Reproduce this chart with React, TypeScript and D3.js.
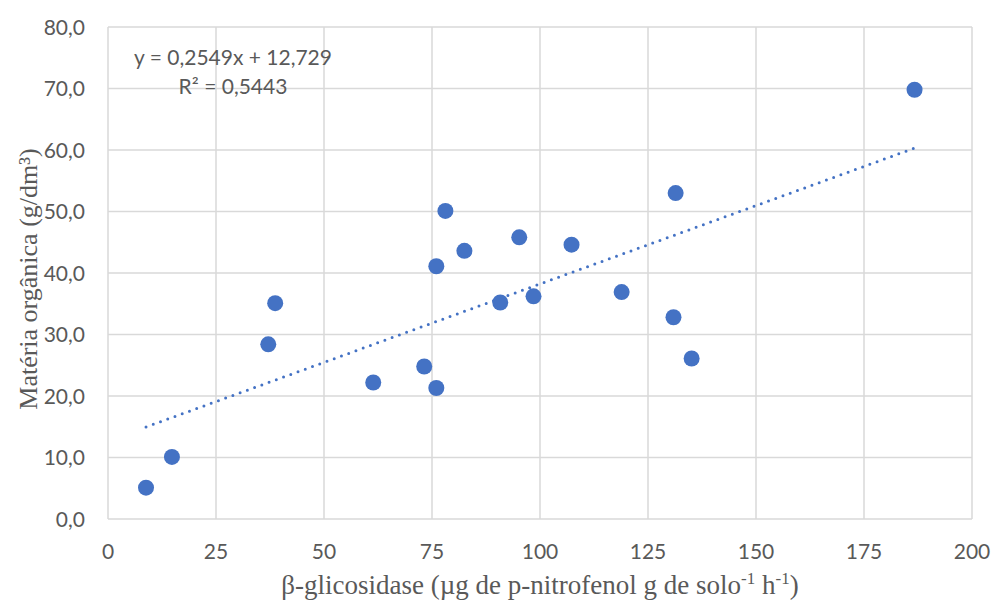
import React, { useEffect, useRef } from "react";
import * as d3 from "d3";

// β-glicosidase values (x) and matéria orgânica (y)
const glicosidase = [8.8, 14.8, 37.1, 38.7, 61.4, 73.2, 76.0, 76.0, 78.1, 82.5, 90.8, 95.2, 98.5, 107.3, 118.9, 130.9, 131.4, 135.1, 186.7];
const materiaOrganica = [5.1, 10.1, 28.4, 35.1, 22.2, 24.8, 21.3, 41.1, 50.1, 43.6, 35.2, 45.8, 36.2, 44.6, 36.9, 32.8, 53.0, 26.1, 69.8];
const xTicks = [0, 25, 50, 75, 100, 125, 150, 175, 200];
const yTicks = [0, 10, 20, 30, 40, 50, 60, 70, 80];
const slope = 0.2549;
const intercept = 12.729;
const eqLabel = "y = 0,2549x + 12,729";
const r2Label = "R² = 0,5443";

export default function App() {
  const ref = useRef<SVGSVGElement>(null);

  useEffect(() => {
    const width = 992;
    const height = 603;
    const margin = { top: 27, right: 20, bottom: 84, left: 108 };
    const innerWidth = width - margin.left - margin.right;
    const innerHeight = height - margin.top - margin.bottom;
    const sans = "Lato, Open Sans, sans-serif";
    const serif = "Liberation Serif, Times New Roman, serif";

    const svg = d3.select(ref.current);
    svg.selectAll("*").remove();
    const g = svg.append("g").attr("transform", `translate(${margin.left}, ${margin.top})`);

    const xScale = d3.scaleLinear().domain([0, 200]).range([0, innerWidth]);
    const yScale = d3.scaleLinear().domain([0, 80]).range([innerHeight, 0]);

    // grid
    g.selectAll(".vgrid").data(xTicks).join("line")
      .attr("x1", d => xScale(d)).attr("x2", d => xScale(d))
      .attr("y1", 0).attr("y2", innerHeight)
      .attr("stroke", "#d9d9d9").attr("stroke-width", 1.5);
    g.selectAll(".hgrid").data(yTicks).join("line")
      .attr("x1", 0).attr("x2", innerWidth)
      .attr("y1", d => yScale(d)).attr("y2", d => yScale(d))
      .attr("stroke", "#d9d9d9").attr("stroke-width", 1.5);

    const fmt = (v: number) => d3.format(".1f")(v).replace(".", ",");

    // tick labels
    g.selectAll(".xlab").data(xTicks).join("text")
      .attr("x", d => xScale(d)).attr("y", innerHeight + 40)
      .attr("text-anchor", "middle")
      .attr("font-family", sans).attr("font-size", 21).attr("fill", "#595959")
      .text(d => String(d));
    g.selectAll(".ylab").data(yTicks).join("text")
      .attr("x", -23).attr("y", d => yScale(d) + 7.5)
      .attr("text-anchor", "end")
      .attr("font-family", sans).attr("font-size", 21).attr("fill", "#595959")
      .text(d => fmt(d));

    // trendline
    const [xMin, xMax] = d3.extent(glicosidase) as [number, number];
    const line = d3.line<number>().x(d => xScale(d)).y(d => yScale(slope * d + intercept));
    g.append("path")
      .attr("d", line([xMin, xMax]))
      .attr("fill", "none").attr("stroke", "#4472C4").attr("stroke-width", 3)
      .attr("stroke-linecap", "round").attr("stroke-dasharray", "0 7.7");

    // points
    g.selectAll("circle").data(glicosidase).join("circle")
      .attr("cx", d => xScale(d))
      .attr("cy", (d, i) => yScale(materiaOrganica[i]))
      .attr("r", 8)
      .attr("fill", "#4472C4");

    // equation
    g.append("text").attr("x", 125).attr("y", 38).attr("text-anchor", "middle")
      .attr("font-family", sans).attr("font-size", 21).attr("fill", "#595959")
      .text(eqLabel);
    g.append("text").attr("x", 125).attr("y", 67).attr("text-anchor", "middle")
      .attr("font-family", sans).attr("font-size", 21).attr("fill", "#595959")
      .text(r2Label);

    // axis titles
    const xt = svg.append("text")
      .attr("x", margin.left + innerWidth / 2).attr("y", height - 9)
      .attr("text-anchor", "middle")
      .attr("font-family", serif).attr("font-size", 27).attr("fill", "#595959");
    xt.append("tspan").text("β-glicosidase (µg de p-nitrofenol g de solo");
    xt.append("tspan").attr("dy", -10).attr("font-size", 17).text("-1");
    xt.append("tspan").attr("dy", 10).text(" h");
    xt.append("tspan").attr("dy", -10).attr("font-size", 17).text("-1");
    xt.append("tspan").attr("dy", 10).text(")");

    svg.append("text")
      .attr("transform", `translate(37, ${margin.top + innerHeight / 2 + 6}) rotate(-90)`)
      .attr("text-anchor", "middle")
      .attr("font-family", serif).attr("font-size", 26).attr("fill", "#595959")
      .text("Matéria orgânica (g/dm³)");
  }, []);

  return (
    <svg ref={ref} width={992} height={603} style={{ position: "absolute", left: 0, top: 0, background: "#fff" }} />
  );
}
